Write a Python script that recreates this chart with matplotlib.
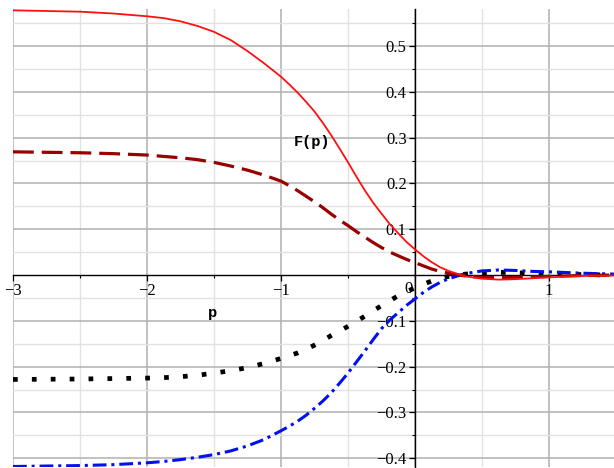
import matplotlib
matplotlib.use("Agg")
import matplotlib.pyplot as plt
from matplotlib.ticker import MultipleLocator, FixedLocator

plt.rcParams["font.family"] = ["Liberation Serif", "DejaVu Serif"]

# ---- data ----
p = [-3.0, -2.5, -2.25, -2.0, -1.875, -1.75, -1.625, -1.5, -1.375, -1.25, -1.125,
     -1.0, -0.9375, -0.875, -0.8125, -0.75, -0.6875, -0.625, -0.5625, -0.5,
     -0.4375, -0.375, -0.3125, -0.25, -0.1875, -0.125, -0.0625, 0.0, 0.0625,
     0.125, 0.1875, 0.25, 0.375, 0.5, 0.625, 0.75, 0.875, 1.0, 1.25, 1.49]

F_solid = [0.578, 0.575, 0.571, 0.565, 0.561, 0.554, 0.544, 0.531, 0.513, 0.489,
           0.462, 0.433, 0.416, 0.398, 0.378, 0.357, 0.332, 0.305, 0.276, 0.246,
           0.215, 0.185, 0.158, 0.134, 0.111, 0.091, 0.072, 0.056, 0.041,
           0.028, 0.017, 0.009, -0.003, -0.008, -0.010, -0.009, -0.007, -0.005,
           -0.002, -0.001]

F_dash = [0.269, 0.267, 0.265, 0.262, 0.259, 0.256, 0.252, 0.246, 0.238, 0.229,
          0.218, 0.205, 0.195, 0.184, 0.172, 0.160, 0.147, 0.133, 0.120, 0.108,
          0.095, 0.083, 0.071, 0.060, 0.050, 0.042, 0.034, 0.027, 0.020,
          0.013, 0.008, 0.004, -0.002, -0.005, -0.006, -0.005, -0.004, -0.003,
          -0.001, 0.0]

F_dot = [-0.228, -0.227, -0.226, -0.225, -0.224, -0.222, -0.219, -0.214, -0.209,
         -0.202, -0.193, -0.182, -0.176, -0.170, -0.162, -0.153, -0.143, -0.132,
         -0.122, -0.112, -0.101, -0.090, -0.078, -0.067, -0.056, -0.045, -0.036,
         -0.028, -0.020, -0.013, -0.007, -0.003, 0.002, 0.005, 0.006, 0.005,
         0.004, 0.003, 0.001, 0.0]

F_dashdot = [-0.418, -0.416, -0.414, -0.410, -0.407, -0.403, -0.398, -0.392, -0.384,
             -0.373, -0.359, -0.340, -0.330, -0.319, -0.306, -0.291, -0.275, -0.257,
             -0.236, -0.214, -0.190, -0.166, -0.141, -0.117, -0.098, -0.082, -0.066,
             -0.052, -0.038, -0.026, -0.016, -0.008, 0.003, 0.009, 0.011, 0.010,
             0.008, 0.007, 0.004, 0.002]

x_ticks = [-3, -2, -1, 1]
x_tick_labels = ["\u22123", "\u22122", "\u22121", "1"]
y_ticks = [-0.4, -0.3, -0.2, -0.1, 0.1, 0.2, 0.3, 0.4, 0.5]
y_tick_labels = ["\u22120.4", "\u22120.3", "\u22120.2", "\u22120.1",
                 "0.1", "0.2", "0.3", "0.4", "0.5"]

fig = plt.figure(figsize=(6.14, 4.68), dpi=100)
ax = fig.add_axes([13 / 614, 0.6 / 468, 601.7 / 614, 458 / 468])
ax.set_xlim(-3.0, 1.49)
ax.set_ylim(-0.42, 0.58)

# grid
ax.xaxis.set_major_locator(FixedLocator(x_ticks))
ax.xaxis.set_minor_locator(MultipleLocator(0.5))
ax.yaxis.set_major_locator(FixedLocator(y_ticks))
ax.yaxis.set_minor_locator(MultipleLocator(0.05))
for xv in [-3, -2, -1, 0, 1]:
    ax.axvline(xv, color="#b0b0b0", lw=1.1, zorder=0)
for xv in [-2.5, -1.5, -0.5, 0.5]:
    ax.axvline(xv, color="#e2e2e2", lw=1.0, zorder=0)
for yv in [-0.4, -0.3, -0.2, -0.1, 0.1, 0.2, 0.3, 0.4, 0.5]:
    ax.axhline(yv, color="#b0b0b0", lw=1.1, zorder=0)
for yv in [-0.35, -0.25, -0.15, -0.05, 0.05, 0.15, 0.25, 0.35, 0.45, 0.55]:
    ax.axhline(yv, color="#e2e2e2", lw=1.0, zorder=0)

# axes through origin
for s in ["top", "right"]:
    ax.spines[s].set_visible(False)
ax.spines["left"].set_position(("data", 0))
ax.spines["bottom"].set_position(("data", 0))
ax.spines["left"].set_linewidth(1.0)
ax.spines["bottom"].set_linewidth(1.0)
ax.spines["left"].set_zorder(1)
ax.spines["bottom"].set_zorder(1)
ax.patch.set_alpha(0)

ax.set_xticklabels(x_tick_labels, fontsize=12)
ax.set_yticklabels(y_tick_labels, fontsize=12)
ax.tick_params(axis="both", which="major", length=4, width=0.9, pad=2)
ax.tick_params(axis="both", which="minor", length=2.5, width=0.8)
ax.text(-0.02, -0.012, "0", fontsize=12, ha="right", va="top")

ax.plot(p, F_solid, color="#ff1010", lw=1.3, zorder=5)
ax.plot(p, F_dash, color="#990000", lw=2.3, linestyle=(0, (6.5, 2.5)), zorder=4)
ax.plot(p, F_dot, color="black", lw=3.4, linestyle=(0, (1, 3)),
        dash_capstyle="butt", zorder=3)
ax.plot(p, F_dashdot, color="#0010ee", lw=2.2, linestyle=(0, (4.5, 1.6, 1, 1.6)),
        zorder=3)

mono = ["Liberation Mono", "DejaVu Sans Mono"]
ax.text(-0.77, 0.29, "F(p)", fontsize=11, family=mono, fontweight="bold",
        ha="center", va="center", zorder=6)
ax.text(-1.51, -0.083, "p", fontsize=11, family=mono, fontweight="bold",
        ha="center", va="center", zorder=6)

fig.savefig("out.png", dpi=100)
